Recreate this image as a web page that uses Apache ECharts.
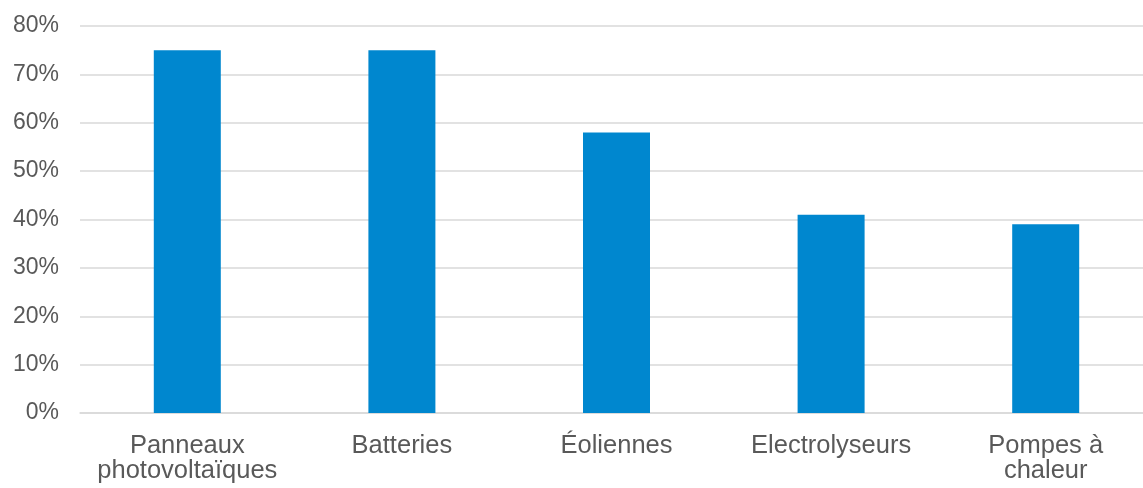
<!DOCTYPE html>
<html>
<head>
<meta charset="utf-8">
<script src="https://cdn.jsdelivr.net/npm/echarts@6/dist/echarts.min.js"></script>
<style>
html,body{margin:0;padding:0;background:#fff;}
#chart{width:1143px;height:488px;}
</style>
</head>
<body>
<div id="chart"></div>
<script>
const categories = ["Panneaux\nphotovoltaïques", "Batteries", "Éoliennes", "Electrolyseurs", "Pompes à\nchaleur"];
const values = [75, 75, 58, 41, 39];
const yTicks = { min: 0, max: 80, interval: 10 };

const chart = echarts.init(document.getElementById('chart'), null, { renderer: 'canvas' });
chart.setOption({
  animation: false,
  grid: { left: 80, width: 1073, top: 26, bottom: 75, containLabel: false, outerBoundsMode: 'none' },
  xAxis: {
    type: 'category',
    data: categories,
    axisLine: { lineStyle: { color: '#D9D9D9', width: 1.5 } },
    axisTick: { show: false },
    axisLabel: {
      color: '#595959',
      fontFamily: 'Liberation Sans, Arial, sans-serif',
      fontSize: 25.5,
      lineHeight: 25,
      margin: 20,
      interval: 0
    }
  },
  yAxis: {
    type: 'value',
    min: yTicks.min,
    max: yTicks.max,
    interval: yTicks.interval,
    axisLine: { show: false },
    axisTick: { show: false },
    splitLine: { lineStyle: { color: '#D9D9D9', width: 1.5 } },
    axisLabel: {
      color: '#595959',
      fontFamily: 'Liberation Sans, Arial, sans-serif',
      fontSize: 23,
      margin: 21,
      formatter: '{value}%'
    }
  },
  series: [{
    type: 'bar',
    data: values,
    barWidth: 67,
    itemStyle: { color: '#0087CF' }
  }]
});
</script>
</body>
</html>
